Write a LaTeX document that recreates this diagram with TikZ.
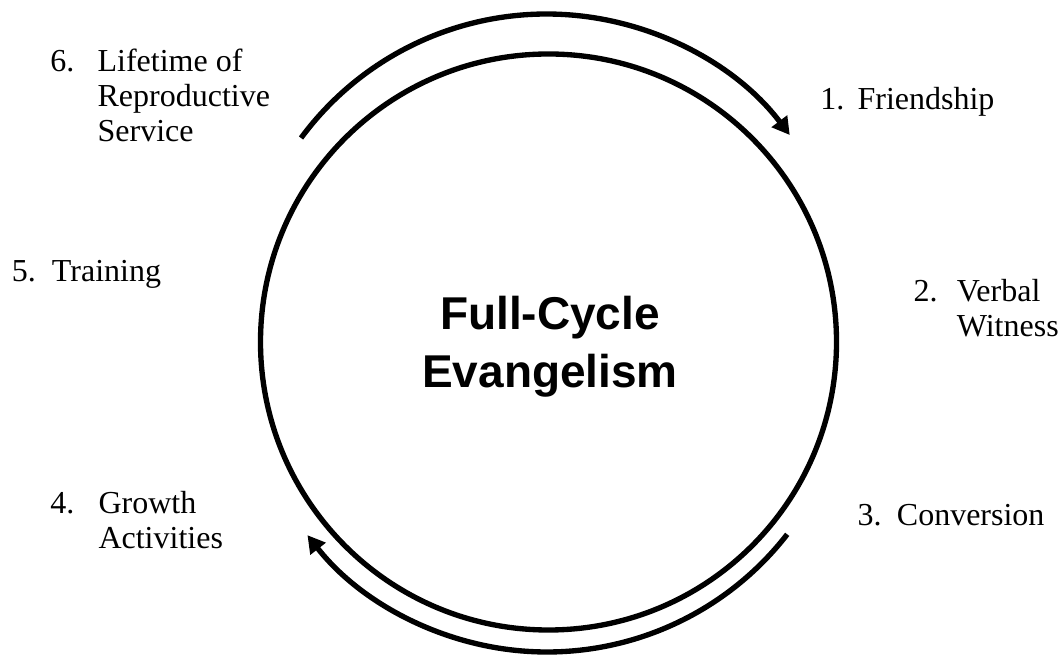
\documentclass[tikz,border=0pt]{standalone}
\usepackage{fontspec}
\setmainfont{Liberation Serif}
\newfontfamily\titlefont{Liberation Sans}
\usetikzlibrary{arrows.meta,calc}
\tikzset{
  ring/.style={draw=black, circle, line width=4pt, minimum size=432pt, inner sep=0pt},
  cyclearrow/.style={draw=black, line width=4pt, -{Triangle[length=13pt, width=14pt]}},
  steplabel/.style={anchor=base west, inner sep=0pt, align=left, font=\fontsize{24}{26.4}\selectfont},
  titlelabel/.style={anchor=base, inner sep=0pt, align=center, font=\titlefont\bfseries\fontsize{34.5}{44}\selectfont}
}
\begin{document}
\begin{tikzpicture}[x=0.75pt, y=0.75pt]
  \useasboundingbox (0,0) rectangle (1062,656);
  % central circle
  \node[ring] (cyc) at (548.5,314) {};
  \node[titlelabel] (title) at (550,268) {Full-Cycle\\Evangelism};
  % outer arrows
  \coordinate (topstart) at ($(546.5,337)+(143.6:228.75pt)$);
  \coordinate (botstart) at ($(547,308)+(-37.8:228pt)$);
  \draw[cyclearrow] (topstart) arc[start angle=143.6, end angle=37.1, radius=228.75pt];
  \draw[cyclearrow] (botstart) arc[start angle=-37.8, end angle=-142, radius=228pt];
  % labels
  \node[steplabel] (s1) at (820,546.7) {\makebox[28pt][l]{1.}Friendship};
  \node[steplabel] (s2) at (913.3,319.3) {\makebox[32.5pt][l]{2.}Verbal\\\hspace*{32.5pt}Witness};
  \node[steplabel] (s3) at (857.3,130.3) {\makebox[29.5pt][l]{3.}Conversion};
  \node[steplabel] (s4) at (50,107.7) {\makebox[36.2pt][l]{4.}Growth\\\hspace*{36.2pt}Activities};
  \node[steplabel] (s5) at (11.7,374.3) {\makebox[30pt][l]{5.}Training};
  \node[steplabel] (s6) at (50,514.3) {\makebox[35.5pt][l]{6.}Lifetime of\\\hspace*{35.5pt}Reproductive\\\hspace*{35.5pt}Service};
\end{tikzpicture}
\end{document}
